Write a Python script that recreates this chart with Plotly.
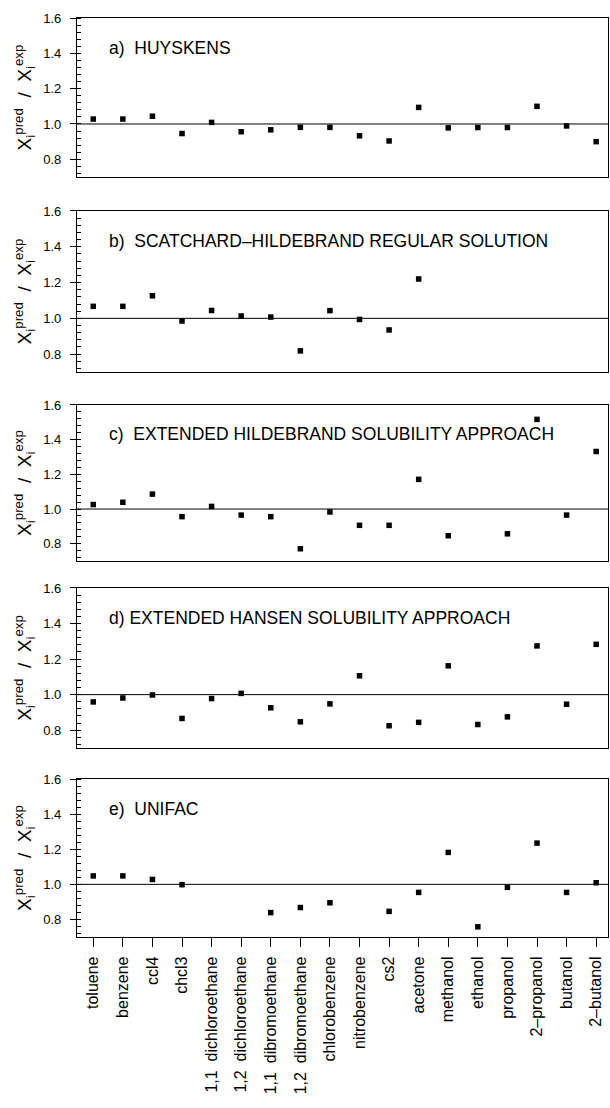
import plotly.graph_objects as go

NB = "\u00a0"
categories = ["toluene", "benzene", "ccl4", "chcl3",
              "1,1" + NB * 2 + "dichloroethane", "1,2" + NB * 2 + "dichloroethane",
              "1,1" + NB * 2 + "dibromoethane", "1,2" + NB * 2 + "dibromoethane",
              "chlorobenzene", "nitrobenzene", "cs2", "acetone", "methanol",
              "ethanol", "propanol", "2\u2013propanol", "butanol", "2\u2013butanol"]

huyskens = [1.028, 1.028, 1.044, 0.946, 1.009, 0.956, 0.967, 0.981, 0.981,
            0.933, 0.904, 1.094, 0.978, 0.980, 0.980, 1.100, 0.989, 0.900]
scatchard = [1.067, 1.067, 1.126, 0.985, 1.044, 1.013, 1.007, 0.818, 1.043,
             0.994, 0.935, 1.220, None, None, None, None, None, None]
ext_hildebrand = [1.026, 1.039, 1.086, 0.956, 1.015, 0.965, 0.956, 0.771, 0.983,
                  0.906, 0.906, 1.171, 0.846, None, 0.857, 1.517, 0.965, 1.332]
ext_hansen = [0.959, 0.981, 0.998, 0.866, 0.978, 1.007, 0.926, 0.847, 0.948,
              1.106, 0.825, 0.844, 1.162, 0.832, 0.875, 1.274, 0.946, 1.283]
unifac = [1.048, 1.048, 1.028, 0.998, None, None, 0.839, 0.868, 0.895,
          None, 0.846, 0.954, 1.182, 0.758, 0.983, 1.235, 0.954, 1.009]

panel_labels = ["a)" + NB * 2 + "HUYSKENS",
                "b)" + NB * 2 + "SCATCHARD\u2013HILDEBRAND REGULAR SOLUTION",
                "c)" + NB * 2 + "EXTENDED HILDEBRAND SOLUBILITY APPROACH",
                "d) EXTENDED HANSEN SOLUBILITY APPROACH",
                "e)" + NB * 2 + "UNIFAC"]
series = [huyskens, scatchard, ext_hildebrand, ext_hansen, unifac]

y_ticks = [0.8, 1.0, 1.2, 1.4, 1.6]
y_ticktext = ["0.8", "1.0", "1.2", "1.4", "1.6"]
reference_value = 1.0

domains = [(0.8270, 1.0), (0.6148, 0.7900), (0.4091, 0.5789), (0.2057, 0.3798), (0.0, 0.1719)]

FONT = "Liberation Sans, Arial, sans-serif"
ytitle = "X<sub>i</sub><sup>pred</sup>  /  X<sub>i</sub><sup>exp</sup>"

fig = go.Figure()
layout = {}
for i, (vals, label) in enumerate(zip(series, panel_labels)):
    n = i + 1
    xa = "x" if n == 1 else f"x{n}"
    ya = "y" if n == 1 else f"y{n}"
    fig.add_trace(go.Scatter(
        x=categories, y=vals, mode="markers",
        marker=dict(symbol="square", size=5.5, color="black", line=dict(width=0)),
        xaxis=xa, yaxis=ya, showlegend=False, hoverinfo="x+y"))
    last = n == len(series)
    layout["xaxis" if n == 1 else f"xaxis{n}"] = dict(
        domain=[0, 1], anchor=ya, type="category",
        categoryorder="array", categoryarray=categories,
        range=[-0.55, 17.4], showline=True, mirror=True,
        linecolor="black", linewidth=1.2, showgrid=False, zeroline=False,
        ticks="outside" if last else "", ticklen=9, tickwidth=1, tickcolor="black",
        showticklabels=last, tickangle=-90,
        tickfont=dict(family=FONT, size=16, color="black"),
        ticklabelstandoff=3,
    )
    layout["yaxis" if n == 1 else f"yaxis{n}"] = dict(
        domain=list(domains[i]), anchor=xa, range=[0.7, 1.6],
        tickvals=y_ticks, ticktext=y_ticktext,
        showline=True, mirror=True, linecolor="black", linewidth=1.2,
        showgrid=False, zeroline=False,
        ticks="outside", ticklen=6, tickwidth=1, tickcolor="black",
        minor=dict(ticks="inside", ticklen=4, dtick=0.04, tick0=0.8,
                   tickcolor="black", tickwidth=1, showgrid=False),
        tickfont=dict(family=FONT, size=13, color="black"),
        ticklabelstandoff=6,
        title=dict(text=ytitle, font=dict(family=FONT, size=19, color="black"), standoff=6),
    )
    fig.add_shape(type="line", xref=f"{xa} domain", yref=ya, x0=0, x1=1,
                  y0=reference_value, y1=reference_value,
                  line=dict(color="black", width=1))
    fig.add_annotation(text=label, xref=f"{xa} domain", yref=ya, x=0.057, y=1.43,
                       xanchor="left", yanchor="middle", showarrow=False,
                       font=dict(family=FONT, size=17.5, color="black"))

fig.update_layout(**layout)
fig.update_layout(width=610, height=1108, margin=dict(l=77, r=2, t=18, b=171),
                  paper_bgcolor="white", plot_bgcolor="white",
                  font=dict(family=FONT, color="black"))
fig.write_html("out.html", config={"displayModeBar": False},
               post_script="document.body.style.margin='0';document.body.style.overflow='hidden';")
